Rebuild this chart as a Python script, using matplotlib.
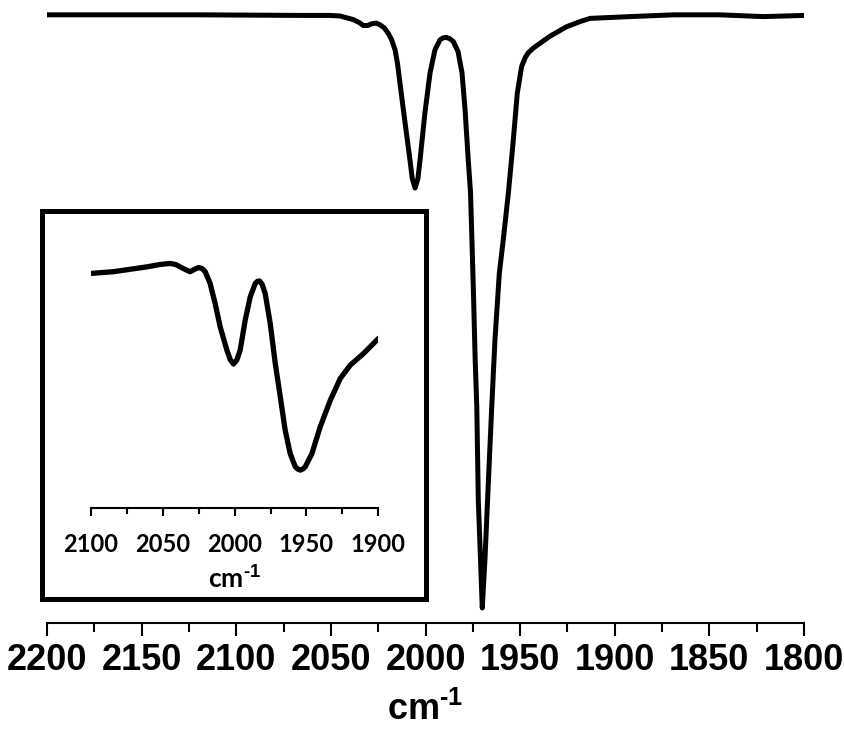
import matplotlib
matplotlib.use('Agg')
import matplotlib.pyplot as plt
from matplotlib.patches import Rectangle
from matplotlib.ticker import MultipleLocator

# Main spectrum (wavenumber cm-1, transmittance a.u.)
main_wn = [2200, 2172, 2119, 2066, 2050.5, 2045.2, 2041.6, 2038.2, 2035.0, 2032.9, 2030.5,
           2028.4, 2026.0, 2024.0, 2021.8, 2019.7, 2017.9, 2016.1, 2014.8, 2013.5, 2010.8,
           2008.2, 2007.0, 2005.5, 2004.0, 2002.9, 2000.3,
           1997.6, 1995.0, 1992.3, 1990.8, 1989.2, 1987.3, 1985.3, 1982.8, 1980.7, 1979.1,
           1977.4, 1976.2, 1974.7, 1973.8, 1972.9, 1972.1, 1970.8, 1970.0, 1968.6, 1966.8,
           1965.0, 1963.3, 1961.0, 1958.9, 1956.2, 1953.6, 1951.5, 1949.2, 1947.3, 1945.7,
           1943.0, 1940.4, 1934.2, 1925.4, 1918.0, 1913.1, 1892.0, 1869.1, 1844.4, 1821.5, 1800]
main_t = [100.0, 100.0, 100.0, 99.9, 99.9, 99.8, 99.5, 99.2, 98.7, 98.2, 98.2,
          98.5, 98.6, 98.3, 97.8, 96.9, 95.8, 94.1, 91.8, 88.5, 81.8,
          75.5, 72.4, 70.8, 72.4, 75.5, 83.5,
          90.2, 94.1, 95.8, 96.1, 96.2, 96.0, 95.5, 93.8, 90.2, 84.0,
          75.5, 70.0, 53.6, 42.4, 33.9, 18.2, 7.0, 0.0, 8.1, 21.1,
          33.9, 45.2, 56.4, 62.1, 70.0, 78.9, 86.8, 91.3, 92.8, 93.6,
          94.4, 95.0, 96.4, 98.0, 98.9, 99.4, 99.7, 100.0, 100.0, 99.7, 99.9]

# Inset spectrum
inset_wn = [2100, 2084.3, 2072.6, 2061.0, 2051.8, 2044.8, 2041.0, 2037.8, 2034.0, 2030.9,
            2027.8, 2025.1, 2022.5, 2020.4, 2017.0, 2013.5, 2010.0, 2005.3, 2002.9, 2000.7,
            1998.4, 1996.1, 1992.6, 1989.1, 1985.6, 1984.1, 1982.6, 1980.9, 1978.7, 1975.2,
            1971.7, 1968.2, 1964.8, 1961.3, 1957.8, 1956.0, 1954.3, 1952.5, 1950.8, 1946.2,
            1940.4, 1933.4, 1926.5, 1919.5, 1910.2, 1900]
inset_t = [97.1, 97.6, 98.3, 99.0, 99.7, 100.0, 99.7, 99.0, 98.2, 97.6,
           98.3, 98.8, 98.5, 97.6, 94.2, 88.4, 81.6, 74.8, 72.0, 70.8,
           72.0, 74.8, 83.5, 90.3, 94.2, 94.8, 94.9, 94.0, 91.3, 82.6,
           71.0, 61.3, 51.6, 44.8, 41.0, 40.3, 40.0, 40.3, 41.0, 44.8,
           52.6, 60.3, 66.6, 70.5, 73.9, 78.2]

main_ticks = [2200, 2150, 2100, 2050, 2000, 1950, 1900, 1850, 1800]
inset_ticks = [2100, 2050, 2000, 1950, 1900]

plt.rcParams['mathtext.fontset'] = 'custom'
plt.rcParams['mathtext.rm'] = 'Liberation Sans:bold'
plt.rcParams['mathtext.it'] = 'Liberation Sans:bold'
plt.rcParams['mathtext.bf'] = 'Liberation Sans:bold'

fig = plt.figure(figsize=(8.44, 7.34), dpi=100)

# Main axes
ax = fig.add_axes([0.0557, 0.1512, 0.8969, 0.8488])
ax.patch.set_alpha(0)
ax.plot(main_wn, main_t, color='black', lw=3.6, solid_joinstyle='round',
        solid_capstyle='round')
ax.set_xlim(2200, 1800)
ax.set_ylim(-2.53, 102.5)
for s in ['top', 'right', 'left']:
    ax.spines[s].set_visible(False)
ax.spines['bottom'].set_linewidth(1.5)
ax.set_yticks([])
ax.set_xticks(main_ticks)
ax.set_xticklabels([str(t) for t in main_ticks])
ax.xaxis.set_minor_locator(MultipleLocator(25))
ax.tick_params(axis='x', which='major', direction='out', length=9.5, width=1.5,
               pad=5, labelsize=26)
ax.tick_params(axis='x', which='minor', direction='out', length=6.5, width=1.5)
for lab in ax.get_xticklabels():
    lab.set_fontfamily('Liberation Sans')
    lab.set_fontweight('bold')
ax.set_xlabel('cm$^{\\text{-1}}$', fontsize=26, fontweight='bold',
              family='Liberation Sans', labelpad=10)

# Inset axes
ai = fig.add_axes([0.1075, 0.3079, 0.3408, 0.3651])
ai.patch.set_alpha(0)
ai.plot(inset_wn, inset_t, color='black', lw=3.8, solid_joinstyle='round',
        solid_capstyle='round')
ai.set_xlim(2100, 1900)
ai.set_ylim(29.0, 106.8)
for s in ['top', 'right', 'left']:
    ai.spines[s].set_visible(False)
ai.spines['bottom'].set_linewidth(1.5)
ai.set_yticks([])
ai.set_xticks(inset_ticks)
ai.set_xticklabels([str(t) for t in inset_ticks])
ai.xaxis.set_minor_locator(MultipleLocator(25))
ai.tick_params(axis='x', which='major', direction='out', length=6, width=1.5,
               pad=12, labelsize=17)
ai.tick_params(axis='x', which='minor', direction='out', length=4, width=1.5)
for lab in ai.get_xticklabels():
    lab.set_fontfamily('Lato')
    lab.set_fontweight('bold')
ai.set_xlabel('cm$^{\\text{-1}}$', fontsize=19, fontweight='bold', family='Lato',
              labelpad=7)

# Inset frame
fig.add_artist(Rectangle((0.0492, 0.1846), 0.5047 - 0.0492, 0.7125 - 0.1846,
                         transform=fig.transFigure, fill=False, lw=3.6,
                         ec='black', joinstyle='miter'))

fig.savefig('out.png', dpi=100)
